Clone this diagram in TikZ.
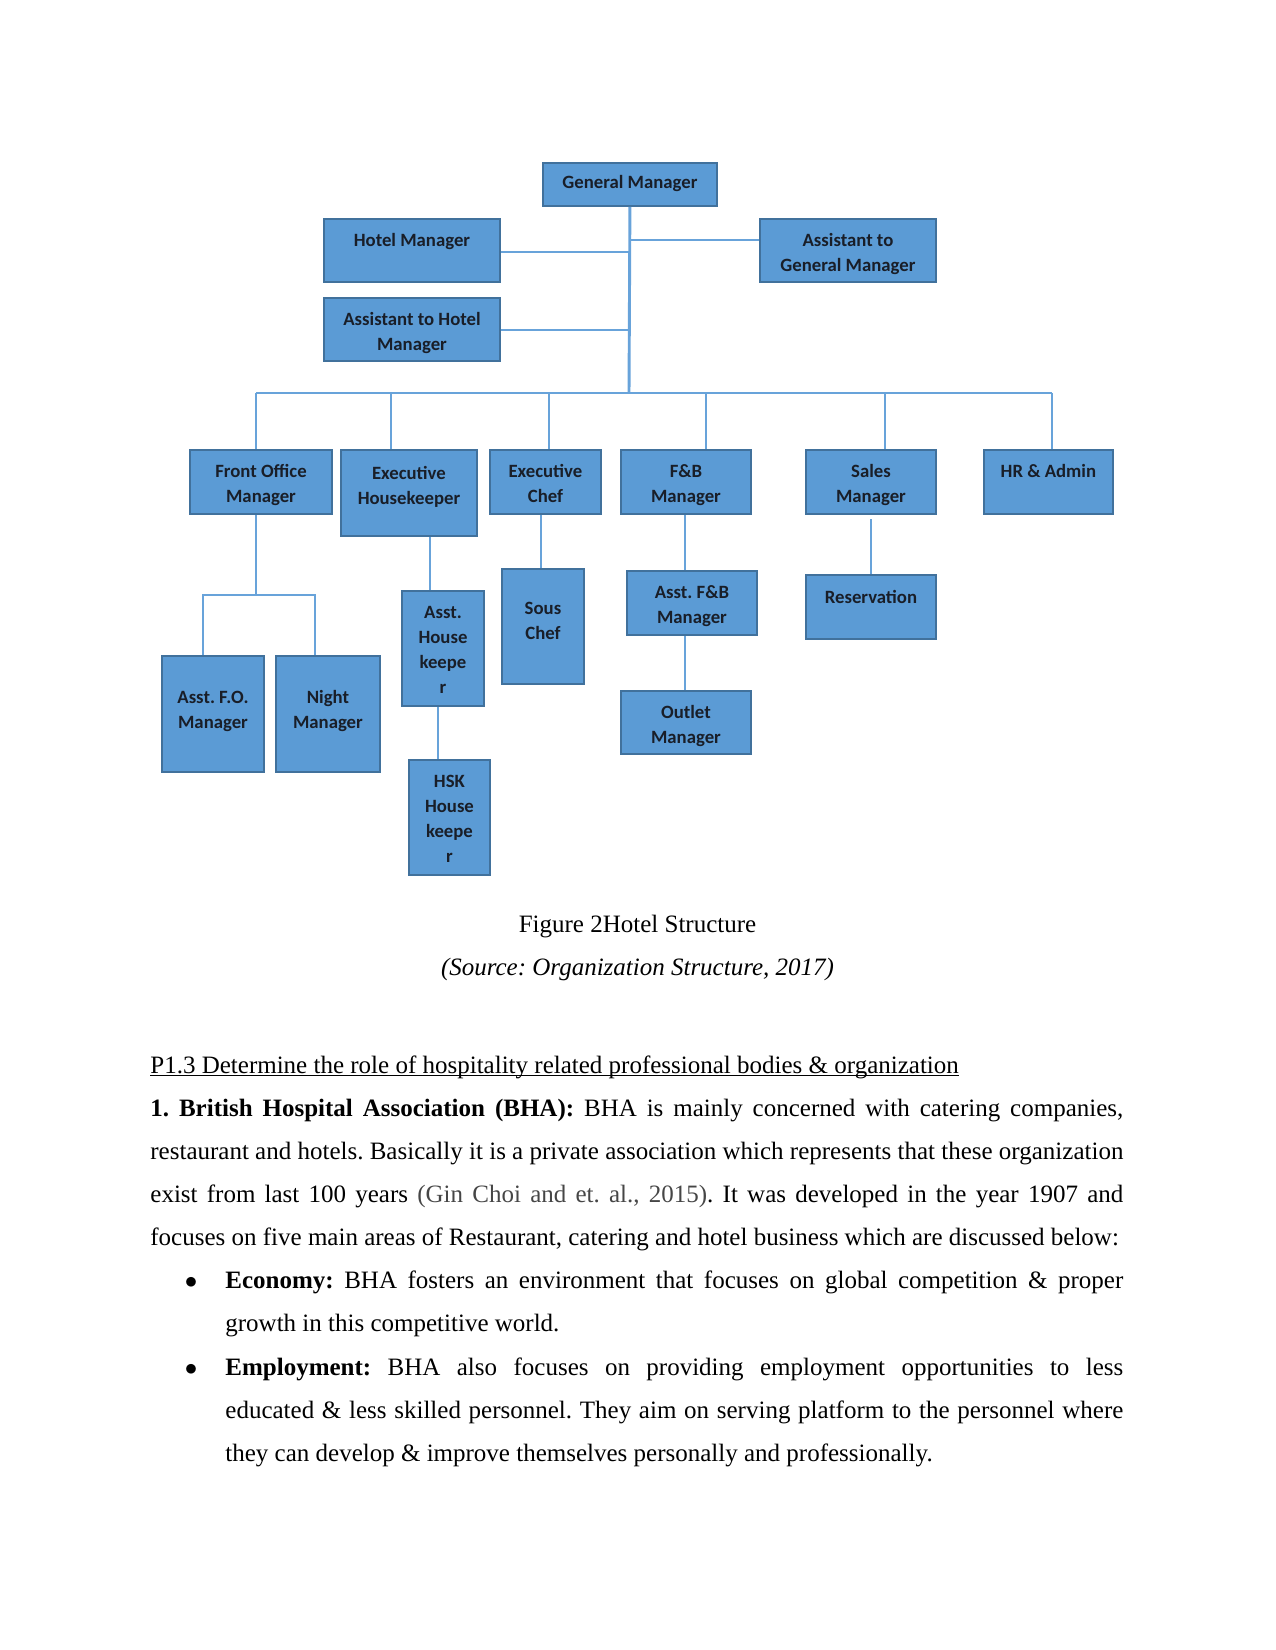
\documentclass[tikz,border=0pt]{standalone}
\usepackage{fontspec}
\setmainfont{Liberation Serif}
\newfontfamily\boxfont{Carlito}
\definecolor{boxfill}{RGB}{91,155,213}
\definecolor{boxline}{RGB}{65,113,156}
\definecolor{conn}{RGB}{104,163,218}
\definecolor{boxtext}{RGB}{25,30,40}
\definecolor{citegray}{RGB}{70,70,70}
\newcommand\obox[7]{\node[orgbox, anchor=north west] (#1) at (#2,#3) {\parbox[c][#5][t]{#4}{\centering\rule{0pt}{#6}#7}};}
\newcommand\ulbox[1]{\setbox0\hbox{#1}\rlap{\rule[-1.6pt]{\wd0}{0.55pt}}\box0}
\frenchspacing
\begin{document}
\frenchspacing
\begin{tikzpicture}[x=0.48pt,y=-0.48pt,
  orgbox/.style={draw=boxline, fill=boxfill, line width=0.9pt, inner sep=0pt, text=boxtext,
    font=\boxfont\bfseries\fontsize{9}{12}\selectfont},
  conline/.style={draw=conn, line width=1.4pt},
  body/.style={inner sep=0pt, font=\frenchspacing\fontsize{12}{14}\selectfont},
]
\useasboundingbox (0,0) rectangle (1275,1650);

% ---- boxes ----
\obox{gm}{542}{162}{83.5pt}{20.6pt}{12.5pt}{General Manager}
\obox{hm}{323}{218}{84.5pt}{30.2pt}{13.4pt}{Hotel Manager}
\obox{agm}{759}{218}{84.5pt}{30.2pt}{13pt}{Assistant to\\General Manager}
\obox{ahm}{323}{297}{84.5pt}{30.2pt}{13pt}{Assistant to Hotel\\Manager}

\obox{fom}{189}{449}{68.2pt}{30.7pt}{13pt}{Front Office\\Manager}
\obox{eh}{340}{449}{65.3pt}{41.3pt}{14.4pt}{Executive\\Housekeeper}
\obox{ec}{489}{449}{53.3pt}{30.7pt}{13pt}{Executive\\Chef}
\obox{fb}{620}{449}{62.4pt}{30.7pt}{13pt}{F\&B\\Manager}
\obox{sm}{805}{449}{62.4pt}{30.7pt}{13pt}{Sales\\Manager}
\obox{hr}{983}{449}{61.9pt}{30.7pt}{13pt}{HR \& Admin}

\obox{afo}{161}{655}{49pt}{55.7pt}{22.6pt}{Asst. F.O.\\Manager}
\obox{nm}{275}{655}{49.9pt}{55.7pt}{22.6pt}{Night\\Manager}
\obox{ahk}{401}{590}{39.4pt}{55.2pt}{13.4pt}{Asst.\\House\\keepe\\r}
\obox{hsk}{408}{759}{38.9pt}{55.2pt}{13.4pt}{HSK\\House\\keepe\\r}
\obox{sc}{501}{568}{39.4pt}{55.2pt}{22pt}{Sous\\Chef}
\obox{afb}{626}{570}{62.4pt}{30.7pt}{13.4pt}{Asst. F\&B\\Manager}
\obox{om}{620}{690}{62.4pt}{30.2pt}{13.4pt}{Outlet\\Manager}
\obox{res}{805}{574}{62.4pt}{30.7pt}{13.9pt}{Reservation}

% ---- connectors ----
\coordinate (bus) at (629,393);
\draw[conline] (gm.south) -- (bus);
\coordinate (jA) at (629,240);
\draw[conline] (jA) -- (jA -| agm.west);
\coordinate (jH) at (629,252);
\draw[conline] (jH) -- (jH -| hm.east);
\coordinate (jAH) at (629,330);
\draw[conline] (jAH) -- (jAH -| ahm.east);

\coordinate (b1) at (256,393);
\coordinate (b2) at (391,393);
\coordinate (b3) at (549,393);
\coordinate (b4) at (706,393);
\coordinate (b5) at (885,393);
\coordinate (b6) at (1052,393);
\draw[conline] (b1) -- (b6);
\draw[conline] (b1) -- (b1 |- fom.north);
\draw[conline] (b2) -- (b2 |- eh.north);
\draw[conline] (b3) -- (b3 |- ec.north);
\draw[conline] (b4) -- (b4 |- fb.north);
\draw[conline] (b5) -- (b5 |- sm.north);
\draw[conline] (b6) -- (b6 |- hr.north);

\coordinate (foJ) at (256,595);
\coordinate (foL) at (203,595);
\coordinate (foR) at (315,595);
\draw[conline] (foJ |- fom.south) -- (foJ);
\draw[conline] (foL |- afo.north) -- (foL) -- (foR) -- (foR |- nm.north);

\coordinate (ehx) at (430,560);
\draw[conline] (ehx |- eh.south) -- (ehx |- ahk.north);
\coordinate (hkx) at (438,730);
\draw[conline] (hkx |- ahk.south) -- (hkx |- hsk.north);
\coordinate (ecx) at (541,540);
\draw[conline] (ecx |- ec.south) -- (ecx |- sc.north);
\coordinate (fbx) at (685,540);
\draw[conline] (fbx |- fb.south) -- (fbx |- afb.north);
\draw[conline] (fbx |- afb.south) -- (fbx |- om.north);
\coordinate (smx) at (871,540);
\draw[conline, shorten <=2pt] (smx |- sm.south) -- (smx |- res.north);

% ---- text ----
\node[body, anchor=base] (cap) at (637.5,932) {Figure 2Hotel Structure};
\node[body, anchor=base] (src) at (637.5,975) {\itshape (Source: Organization Structure, 2017)};

\node[body, anchor=base west] (head) at (150,1073) {\ulbox{P1.3 Determine the role of hospitality related professional bodies \& organization}};
\node[body, anchor=base west] (p1) at (150,1116) {\makebox[467pt][s]{\textbf{1. British Hospital Association (BHA):} BHA is mainly concerned with catering companies,}};
\node[body, anchor=base west] (p2) at (150,1159) {\makebox[467pt][s]{restaurant and hotels. Basically it is a private association which represents that these organization}};
\node[body, anchor=base west] (p3) at (150,1202) {\makebox[467pt][s]{exist from last 100 years {\color{citegray}(Gin Choi and et. al., 2015)}. It was developed in the year 1907 and}};
\node[body, anchor=base west] (p4) at (150,1245) {focuses on five main areas of Restaurant, catering and hotel business which are discussed below:};

\node[body, anchor=base] (bul1) at (191,1288) {$\bullet$};
\node[body, anchor=base west] (e1) at (225,1288) {\makebox[431pt][s]{\textbf{Economy:} BHA fosters an environment that focuses on global competition \& proper}};
\node[body, anchor=base west] (e2) at (225,1331) {growth in this competitive world.};

\node[body, anchor=base] (bul2) at (191,1375) {$\bullet$};
\node[body, anchor=base west] (m1) at (225,1375) {\makebox[431pt][s]{\textbf{Employment:} BHA also focuses on providing employment opportunities to less}};
\node[body, anchor=base west] (m2) at (225,1418) {\makebox[431pt][s]{educated \& less skilled personnel. They aim on serving platform to the personnel where}};
\node[body, anchor=base west] (m3) at (225,1461) {they can develop \& improve themselves personally and professionally.};
\end{tikzpicture}
\end{document}
